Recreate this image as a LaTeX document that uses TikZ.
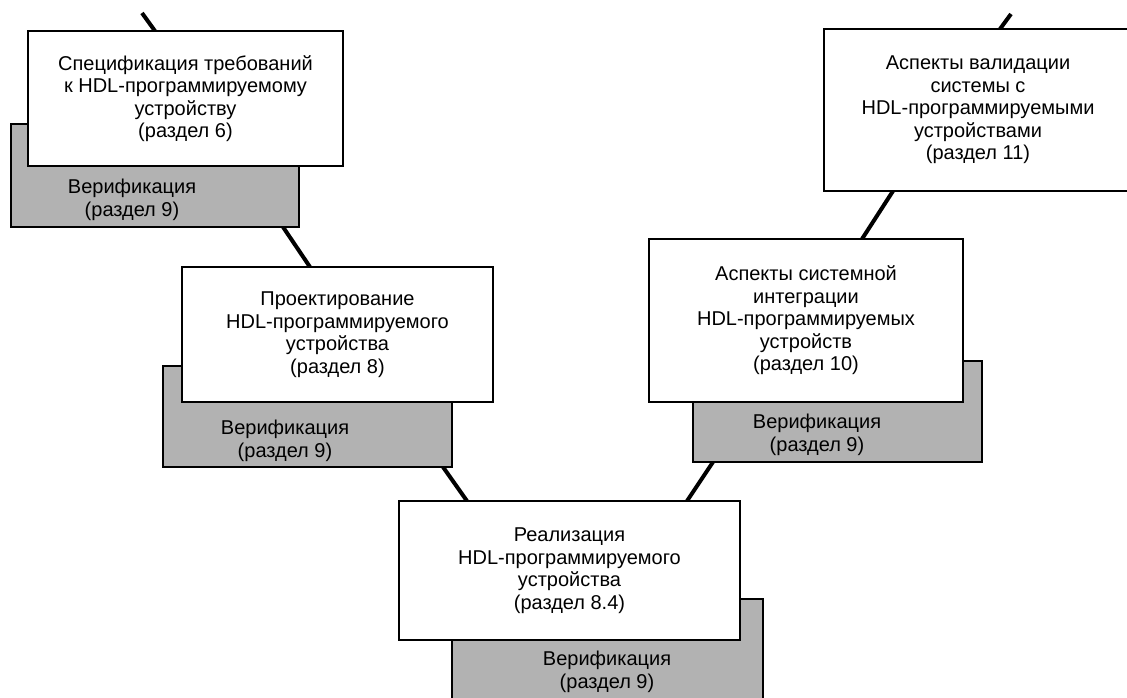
\documentclass[tikz,border=0pt]{standalone}
\usepackage{fontspec}
\setmainfont{Liberation Sans}
\usetikzlibrary{calc}
\pgfdeclarelayer{background}
\pgfsetlayers{background,main}
\definecolor{greyfill}{RGB}{178,178,178}
\tikzset{
  boxbase/.style={draw=black, line width=1.5pt, inner sep=0pt, outer sep=0pt, align=center,
    font=\fontsize{15}{16.9}\selectfont},
  wbox/.style={boxbase, fill=white},
  gbox/.style={boxbase, fill=greyfill},
  gtext/.style={inner sep=0pt, align=center, font=\fontsize{15}{16.9}\selectfont},
  conn/.style={draw=black, line width=3pt}
}
\newcommand{\pxbox}[7]{\node[#1, minimum width={(#5-#3)*0.75pt}, minimum height={(#6-#4)*0.75pt}, anchor=north west] (#2) at (#3,#4) {#7};}
\begin{document}
\begin{tikzpicture}[x=0.75pt,y=-0.75pt]
\useasboundingbox (0,0) rectangle (1127,698);
\clip (0,0) rectangle (1127,698);
% free ends
\coordinate (t1) at (142,13);
\coordinate (t2) at (1011,14);
% grey verification boxes
\pxbox{gbox}{g1}{11}{124}{299}{227}{}
\pxbox{gbox}{g2}{163}{366}{452}{467}{}
\pxbox{gbox}{g3}{693}{361}{982}{462}{}
\pxbox{gbox}{g5}{452}{599}{763}{712}{}
% white boxes
\pxbox{wbox}{b1}{28}{31}{343}{166}{Спецификация требований\\к HDL-программируемому\\устройству\\(раздел 6)}
\pxbox{wbox}{b2}{182}{267}{493}{402}{Проектирование\\HDL-программируемого\\устройства\\(раздел 8)}
\pxbox{wbox}{b3}{649}{239}{963}{402}{Аспекты системной\\интеграции\\HDL-программируемых\\устройств\\(раздел 10)}
\pxbox{wbox}{b4}{824}{29}{1132}{191}{Аспекты валидации\\системы с\\HDL-программируемыми\\устройствами\\(раздел 11)}
\pxbox{wbox}{b5}{399}{501}{740}{640}{Реализация\\HDL-программируемого\\устройства\\(раздел 8.4)}
% verification texts
\node[gtext] (v1) at (132,200) {Верификация\\(раздел 9)};
\node[gtext] (v2) at (285,441) {Верификация\\(раздел 9)};
\node[gtext] (v3) at (817,435) {Верификация\\(раздел 9)};
\node[gtext] (v5) at (607,672) {Верификация\\(раздел 9)};
% connectors
\begin{pgfonlayer}{background}
\draw[conn] (t1) -- ($(b1.north west)+(127,0)$);
\draw[conn] ($(g1.south west)+(272,0)$) -- ($(b2.north west)+(128,0)$);
\draw[conn] ($(g2.south west)+(280,0)$) -- ($(b5.north west)+(68,0)$);
\draw[conn] ($(g3.south west)+(20,0)$) -- ($(b5.north west)+(288,0)$);
\draw[conn] ($(b3.north west)+(213,0)$) -- ($(b4.south west)+(69,0)$);
\draw[conn] ($(b4.north west)+(176,0)$) -- (t2);
\end{pgfonlayer}
\end{tikzpicture}
\end{document}
